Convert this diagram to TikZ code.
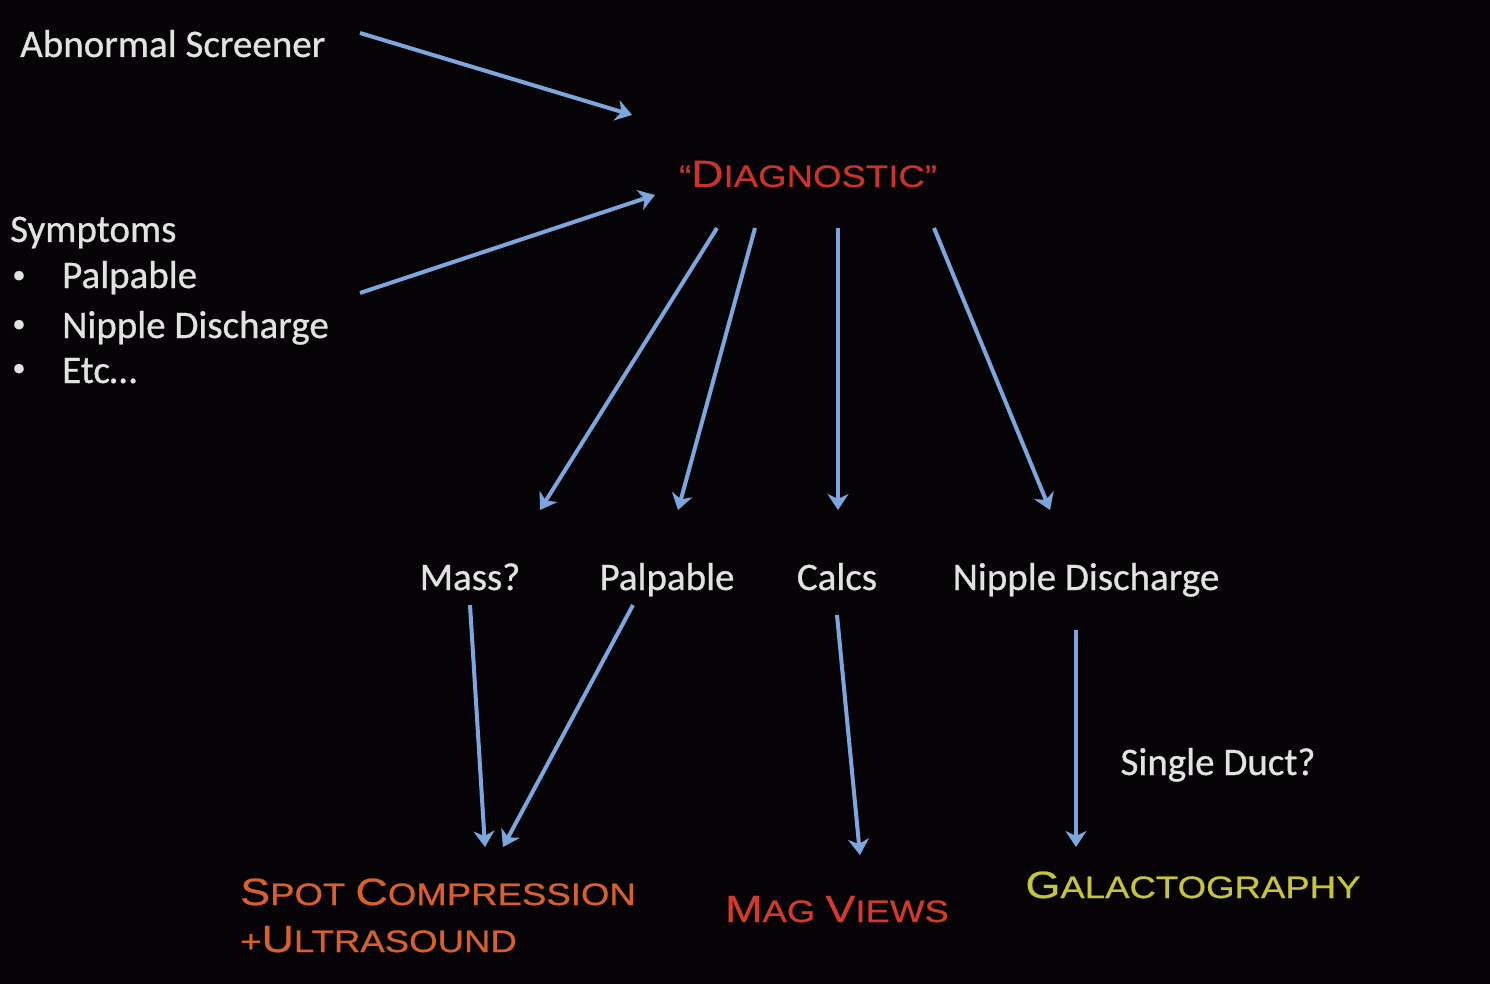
\documentclass[tikz,border=0pt]{standalone}
\usepackage{fontspec}
\setmainfont[FakeBold=0.7]{Carlito}
\newfontfamily\cpfont[FakeStretch=1.18,FakeBold=0.6]{Liberation Sans}
\usetikzlibrary{arrows.meta}
\definecolor{bgc}{HTML}{050305}
\definecolor{txt}{HTML}{E2E2E2}
\definecolor{arrc}{HTML}{7EA6DE}
\definecolor{diagred}{HTML}{C9342A}
\definecolor{spotor}{HTML}{D8602E}
\definecolor{magred}{HTML}{D43A2C}
\definecolor{galyel}{HTML}{C6C43E}
\newcommand{\cpbig}[1]{{\fontsize{38}{44}\selectfont #1}}
\newcommand{\cpsm}[1]{{\fontsize{31}{36}\selectfont #1}}
\tikzset{
  wtxt/.style={text=txt, font=\fontsize{39}{46}\selectfont, inner sep=0pt},
  bul/.style={text=txt, font=\fontsize{26}{30}\selectfont, inner sep=0pt},
  ctxt/.style={font=\cpfont, inner sep=0pt},
  arr/.style={draw=arrc, line width=4pt, -{Stealth[length=16pt,width=21pt,inset=5pt]}}
}
\begin{document}
\begin{tikzpicture}[x=1pt,y=-1pt]
\fill[bgc] (0,0) rectangle (1490,984);
\useasboundingbox (0,0) rectangle (1490,984);

% left texts
\node[wtxt, anchor=base west] (abn) at (20,57) {Abnormal Screener};
\node[wtxt, anchor=base west] (sym) at (10,242) {Symptoms};
\node[bul, anchor=center] (b1) at (19,277) {\textbullet};
\node[wtxt, anchor=base west] (s1) at (62,288) {Palpable};
\node[bul, anchor=center] (b2) at (19,326) {\textbullet};
\node[wtxt, anchor=base west] (s2) at (62,338) {Nipple Discharge};
\node[bul, anchor=center] (b3) at (19,370) {\textbullet};
\node[wtxt, anchor=base west] (s3) at (62,383) {Etc…};

% diagnostic
\node[ctxt, text=diagred, anchor=base] (diag) at (808,187) {\cpsm{“}\cpbig{D}\cpsm{IAGNOSTIC”}};

% second row
\node[wtxt, anchor=base] (mass) at (470,590) {Mass?};
\node[wtxt, anchor=base] (palp) at (667,590) {Palpable};
\node[wtxt, anchor=base] (calc) at (837,590) {Calcs};
\node[wtxt, anchor=base] (nip) at (1086,590) {Nipple Discharge};
\node[wtxt, anchor=base] (duct) at (1218,775) {Single Duct?};

% results
\node[ctxt, text=spotor, anchor=base west] (spot) at (240,905) {\cpbig{S}\cpsm{POT }\cpbig{C}\cpsm{OMPRESSION}};
\node[ctxt, text=spotor, anchor=base west] (us) at (240,952) {\cpsm{+}\cpbig{U}\cpsm{LTRASOUND}};
\node[ctxt, text=magred, anchor=base] (mag) at (837,922) {\cpbig{M}\cpsm{AG }\cpbig{V}\cpsm{IEWS}};
\node[ctxt, text=galyel, anchor=base] (gal) at (1193,898) {\cpbig{G}\cpsm{ALACTOGRAPHY}};

% arrow endpoints
\coordinate (a1s) at (360,33);  \coordinate (a1e) at (632,115);
\coordinate (a2s) at (360,293); \coordinate (a2e) at (655,195);
\coordinate (d1s) at (717,228); \coordinate (d1e) at (540,510);
\coordinate (d2s) at (755,228); \coordinate (d2e) at (678,510);
\coordinate (d3s) at (838,228); \coordinate (d3e) at (838,510);
\coordinate (d4s) at (934,228); \coordinate (d4e) at (1050,510);
\coordinate (m1s) at (470,605); \coordinate (m1e) at (485,847);
\coordinate (p1s) at (633,605); \coordinate (p1e) at (503,847);
\coordinate (c1s) at (837,615); \coordinate (c1e) at (860,855);
\coordinate (n1s) at (1076,630); \coordinate (n1e) at (1076,847);

\draw[arr] (a1s) -- (a1e);
\draw[arr] (a2s) -- (a2e);
\draw[arr] (d1s) -- (d1e);
\draw[arr] (d2s) -- (d2e);
\draw[arr] (d3s) -- (d3e);
\draw[arr] (d4s) -- (d4e);
\draw[arr] (m1s) -- (m1e);
\draw[arr] (p1s) -- (p1e);
\draw[arr] (c1s) -- (c1e);
\draw[arr] (n1s) -- (n1e);
\end{tikzpicture}
\end{document}
